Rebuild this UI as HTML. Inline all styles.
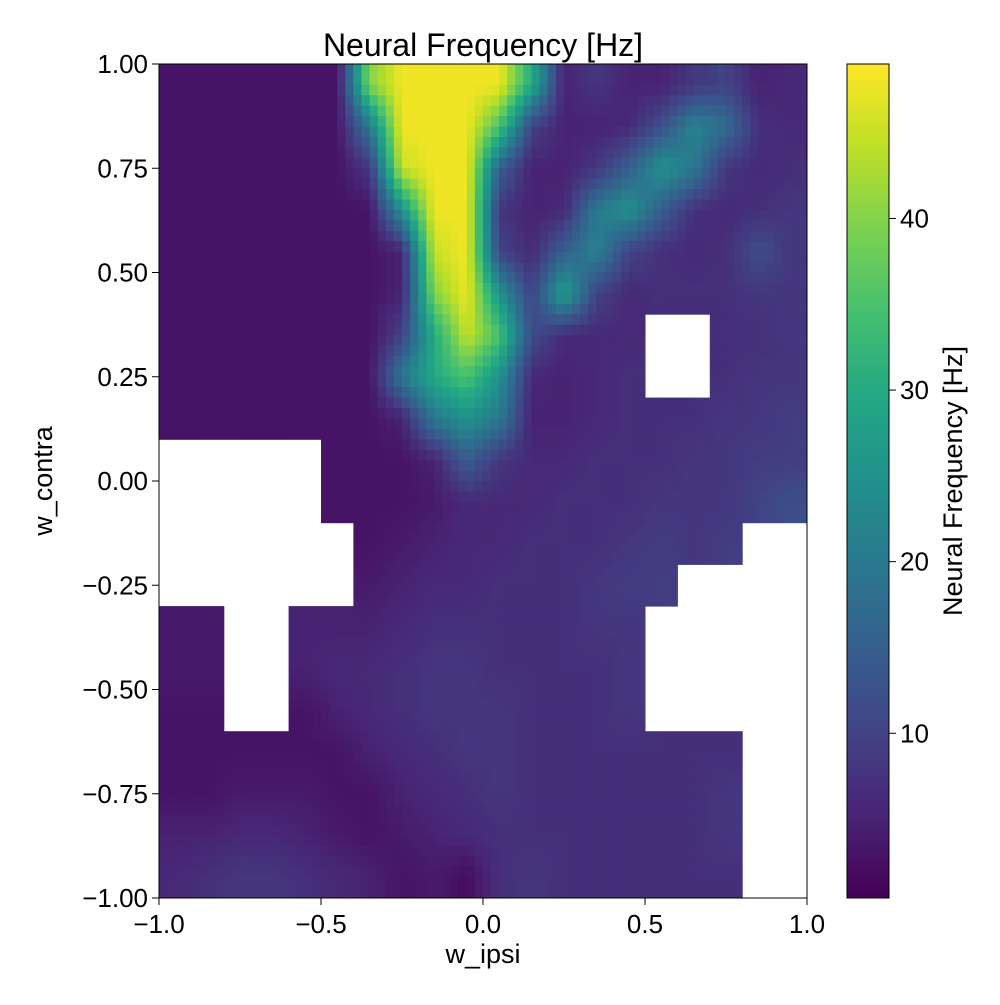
<!DOCTYPE html>
<html><head><meta charset="utf-8"><style>
body{margin:0;background:#fff}
svg text{font-family:"Liberation Sans","DejaVu Sans",sans-serif;fill:#000}
</style></head><body>
<svg id="chart" width="1000" height="1000">
<g id="cells"></g>
<rect x="159" y="64" width="648" height="834" fill="none" stroke="#000" stroke-width="1"/>
<g id="axes"></g>
<text x="483" y="56" text-anchor="middle" font-size="32">Neural Frequency [Hz]</text>
<text x="483" y="963" text-anchor="middle" font-size="27">w_ipsi</text>
<text transform="translate(52,481) rotate(-90)" text-anchor="middle" font-size="27">w_contra</text>
<defs><linearGradient id="vir" x1="0" y1="1" x2="0" y2="0">
<stop offset="0" stop-color="#440154"/><stop offset="0.1" stop-color="#482475"/><stop offset="0.2" stop-color="#414487"/><stop offset="0.3" stop-color="#355f8d"/><stop offset="0.4" stop-color="#2a788e"/><stop offset="0.5" stop-color="#21918c"/><stop offset="0.6" stop-color="#22a884"/><stop offset="0.7" stop-color="#44bf70"/><stop offset="0.8" stop-color="#7ad151"/><stop offset="0.9" stop-color="#bddf26"/><stop offset="1" stop-color="#fde725"/>
</linearGradient></defs>
<rect x="847" y="64" width="42" height="834" fill="url(#vir)" stroke="#000" stroke-width="1"/>
<g id="cbaxis"></g>
<text transform="translate(962,481) rotate(-90)" text-anchor="middle" font-size="27">Neural Frequency [Hz]</text>
</svg>
<script>
const xTicks=[-1.0,-0.5,0.0,0.5,1.0];
const xTickLabels=["−1.0","−0.5","0.0","0.5","1.0"];
const yTicks=[1,0.75,0.5,0.25,0,-0.25,-0.5,-0.75,-1];
const yTickLabels=["1.00","0.75","0.50","0.25","0.00","−0.25","−0.50","−0.75","−1.00"];
const cbTicks=[10,20,30,40];
const N=null;
// rows top (w_contra 0.95) to bottom (-0.95); cols w_ipsi -0.95..0.95
const gridValues=[
[3,3,3,3,3,3,40,48,48,48,48,30,5,8,5,5,8,10,5,6],
[3,3,3,3,3,3,20,48,48,48,35,10,5,5,6,12,22,18,7,6],
[3,3,3,3,3,3,8,45,48,48,15,5,5,8,15,25,20,8,6,7],
[3,3,3,3,3,3,3,25,48,48,8,5,6,20,25,15,7,6,7,8],
[3,3,3,3,3,3,3,5,45,48,10,6,15,22,10,7,6,7,12,8],
[3,3,3,3,3,3,3,5,40,48,25,10,28,10,6,7,7,7,8,8],
[3,3,3,3,3,3,3,10,30,45,35,12,6,6,6,N,N,7,7,8],
[3,3,3,3,3,3,3,20,30,35,25,6,5,6,7,N,N,7,8,8],
[3,3,3,3,3,3,3,5,20,25,20,5,5,6,7,7,7,8,8,9],
[N,N,N,N,N,3,3,3,5,15,8,6,6,7,7,7,8,8,9,9],
[N,N,N,N,N,3,3,3,4,6,6,6,7,7,7,8,8,8,10,12],
[N,N,N,N,N,N,3,4,5,6,6,7,7,7,8,9,8,9,N,N],
[N,N,N,N,N,N,4,5,6,6,7,7,7,8,9,9,N,N,N,N],
[4,4,N,N,5,5,5,6,7,7,7,7,7,8,8,N,N,N,N,N],
[4,4,N,N,5,6,6,7,8,8,7,7,7,7,8,N,N,N,N,N],
[3,3,N,N,3,5,6,7,8,8,8,7,7,7,8,N,N,N,N,N],
[3,3,3,3,3,3,5,6,7,8,8,7,7,7,7,7,7,7,N,N],
[3,3,4,4,4,3,3,5,6,7,8,7,7,7,7,7,7,8,N,N],
[5,5,6,6,5,4,3,4,5,6,7,7,7,7,7,7,7,8,N,N],
[6,7,8,8,7,6,5,3,4,2,7,8,7,7,7,7,7,7,N,N]
];
const vmin=0.4,vmax=49;
const X0=159,X1=807,Y0=64,Y1=898;
const xs=v=>X0+(v+1)/2*(X1-X0);
const ys=v=>Y0+(1-v)/2*(Y1-Y0);
const cs=v=>Y1-(v-vmin)/(vmax-vmin)*(Y1-Y0);
const stops=[[68,1,84],[72,36,117],[65,68,135],[53,95,141],[42,120,142],[33,145,140],[34,168,132],[68,191,112],[122,209,81],[189,223,38],[253,231,37]];
function color(v){let t=Math.max(0,Math.min(1,(v-vmin)/(vmax-vmin)))*10;let i=Math.min(9,Math.floor(t)),f=t-i;
const a=stops[i],b=stops[i+1];return `rgb(${a.map((c,k)=>Math.round(c+(b[k]-c)*f)).join(',')})`;}
const NS="http://www.w3.org/2000/svg";
const cells=document.getElementById('cells');
const nR=gridValues.length,nC=gridValues[0].length;
const SUB=4;
function val(r,c){if(r<0)r=0;if(c<0)c=0;if(r>=nR)r=nR-1;if(c>=nC)c=nC-1;return gridValues[r][c];}
gridValues.forEach((row,r)=>row.forEach((v,c)=>{
 if(v===null)return;
 for(let si=0;si<SUB;si++)for(let sj=0;sj<SUB;sj++){
  // position in cell-center coordinates
  const fr=r+(si+0.5)/SUB-0.5, fc=c+(sj+0.5)/SUB-0.5;
  const r0=Math.floor(fr),c0=Math.floor(fc),wr=fr-r0,wc=fc-c0;
  let s=0,w=0;
  [[r0,c0,(1-wr)*(1-wc)],[r0,c0+1,(1-wr)*wc],[r0+1,c0,wr*(1-wc)],[r0+1,c0+1,wr*wc]].forEach(([a,b,ww])=>{const q=val(a,b);if(q!==null&&ww>0){s+=q*ww;w+=ww;}});
  const vv=w>0?s/w:v;
  const xa=-1+2*(c+sj/SUB)/nC,xb=-1+2*(c+(sj+1)/SUB)/nC,ya=1-2*(r+si/SUB)/nR,yb=1-2*(r+(si+1)/SUB)/nR;
  const el=document.createElementNS(NS,'rect');
  el.setAttribute('x',xs(xa));el.setAttribute('y',ys(ya));
  el.setAttribute('width',xs(xb)-xs(xa)+0.5);el.setAttribute('height',ys(yb)-ys(ya)+0.5);
  el.setAttribute('fill',color(vv));
  
  
  cells.appendChild(el);
 }
}));
const axes=document.getElementById('axes');
function add(tag,attrs,txt,g){const e=document.createElementNS(NS,tag);for(const k in attrs)e.setAttribute(k,attrs[k]);if(txt!==undefined)e.textContent=txt;g.appendChild(e);return e;}
xTicks.forEach((t,i)=>{
 const l=add('line',{x1:xs(t),x2:xs(t),y1:Y1,y2:Y1+7,stroke:'#000'},undefined,axes);
 
 
 const tx=add('text',{x:xs(t),y:Y1+35,'text-anchor':'middle','font-size':26},xTickLabels[i],axes);
 
 
});
yTicks.forEach((t,i)=>{
 const l=add('line',{x1:X0-7,x2:X0,y1:ys(t),y2:ys(t),stroke:'#000'},undefined,axes);
 
 
 const tx=add('text',{x:X0-11,y:ys(t)+9,'text-anchor':'end','font-size':26},yTickLabels[i],axes);
 
 
});
const cb=document.getElementById('cbaxis');
cbTicks.forEach(t=>{
 const l=add('line',{x1:889,x2:896,y1:cs(t),y2:cs(t),stroke:'#000'},undefined,cb);
 
 
 const tx=add('text',{x:900,y:cs(t)+9,'font-size':26},String(t),cb);
 
 
});
</script>
</body></html>
